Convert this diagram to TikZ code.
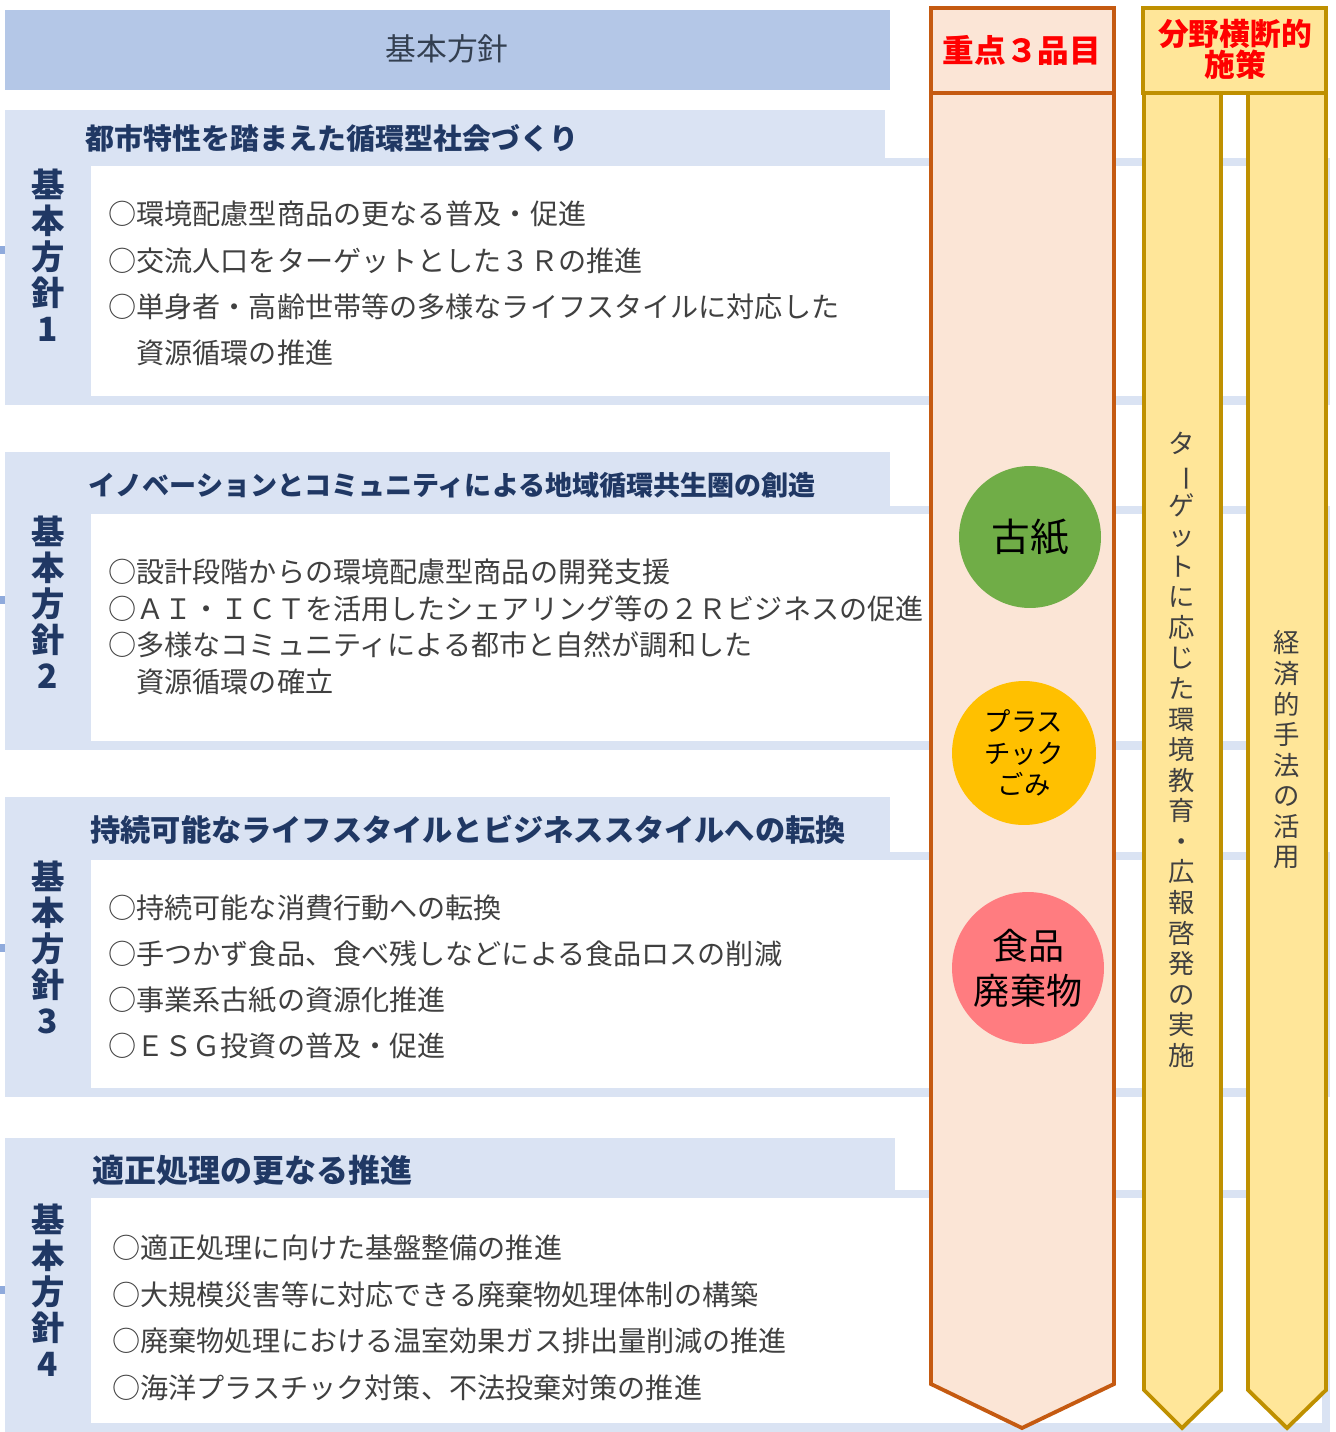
\documentclass[tikz,border=0pt]{standalone}
\usepackage{fontspec}
\setmainfont{Noto Sans CJK JP}
\usepackage{graphicx}
\usepackage{xcolor}
\definecolor{hdrblue}{HTML}{B4C7E7}
\definecolor{panelblue}{HTML}{DAE3F3}
\definecolor{markblue}{HTML}{8FAADC}
\definecolor{navy}{HTML}{203864}
\definecolor{hdrtext}{HTML}{333F50}
\definecolor{bodygray}{HTML}{404040}
\definecolor{jutenfill}{HTML}{FBE5D6}
\definecolor{jutenline}{HTML}{C55A11}
\definecolor{oudanfill}{HTML}{FFE699}
\definecolor{oudanline}{HTML}{BF9000}
\definecolor{kogreen}{HTML}{70AD47}
\definecolor{plaorange}{HTML}{FFC000}
\definecolor{foodpink}{HTML}{FF7C80}
\newcommand{\tatebar}{\rotatebox[origin=c]{-90}{ー}}

\begin{document}
\begin{tikzpicture}[x=0.02cm, y=-0.02cm,
  ttl/.style={anchor=west, inner sep=0pt, text=navy},
  items/.style={anchor=west, inner sep=0pt, align=left, text=bodygray},
  hoshin/.style={inner sep=0pt, align=center, text=navy, font=\bfseries\fontsize{19}{20.5}\selectfont},
  juten/.style={fill=jutenfill, draw=jutenline, line width=2.2pt},
  oudan/.style={fill=oudanfill, draw=oudanline, line width=2.2pt},
  itemcircle/.style={circle, inner sep=0pt, align=center, text=black},
  tate/.style={inner sep=0pt, align=center, text=bodygray, font=\fontsize{15}{17.4}\selectfont},
  redhdr/.style={inner sep=0pt, align=center, text=red, font=\bfseries\fontsize{17.5}{17.5}\selectfont},
  edgemark/.style={fill=markblue}]
\useasboundingbox (0,0) rectangle (1335,1432);

% header
\fill[hdrblue] (5,10) rectangle (890,90);
\node[text=hdrtext, font=\fontsize{17.5}{20}\selectfont] (kihon) at (447,49) {基本方針};

% panels: top / tab right / white top / bottom
\foreach \t/\r/\m/\b in {110/885/166/405, 452/890/514/750, 797/890/860/1097, 1138/895/1198/1432} {
  \fill[panelblue] (5,\t) rectangle (\r,\m);
  \fill[panelblue] (5,\t) rectangle (90,\b);
  \fill[panelblue] (90,\m-8) rectangle (1330,\b);
  \fill[white] (91,\m) rectangle (1322,\b-9);
}
\foreach \y in {250,600,948,1290}
  \fill[edgemark] (0,\y-4) rectangle (5,\y+4);

% policy 1
\node[hoshin] (h1) at (48,255) {基\\本\\方\\針\\1};
\node[ttl, font=\bfseries\fontsize{16.5}{18}\selectfont] (t1) at (85,138) {都市特性を踏まえた循環型社会づくり};
\node[items, font=\fontsize{16}{26.3}\selectfont] (l1) at (108,283.5)
  {○環境配慮型商品の更なる普及・促進\\○交流人口をターゲットとした３Ｒの推進\\○単身者・高齢世帯等の多様なライフスタイルに対応した\\　資源循環の推進};

% policy 2
\node[hoshin] (h2) at (48,602) {基\\本\\方\\針\\2};
\node[ttl, font=\bfseries\fontsize{15.4}{17}\selectfont] (t2) at (88,485) {イノベーションとコミュニティによる地域循環共生圏の創造};
\node[items, font=\fontsize{16}{20.8}\selectfont] (l2) at (108,627)
  {○設計段階からの環境配慮型商品の開発支援\\○ＡＩ・ＩＣＴを活用したシェアリング等の２Ｒビジネスの促進\\○多様なコミュニティによる都市と自然が調和した\\　資源循環の確立};

% policy 3
\node[hoshin] (h3) at (48,947) {基\\本\\方\\針\\3};
\node[ttl, font=\bfseries\fontsize{17.2}{20}\selectfont] (t3) at (90,830) {持続可能なライフスタイルとビジネススタイルへの転換};
\node[items, font=\fontsize{16}{26.1}\selectfont] (l3) at (108,977)
  {○持続可能な消費行動への転換\\○手つかず食品、食べ残しなどによる食品ロスの削減\\○事業系古紙の資源化推進\\○ＥＳＧ投資の普及・促進};

% policy 4
\node[hoshin] (h4) at (48,1290) {基\\本\\方\\針\\4};
\node[ttl, font=\bfseries\fontsize{18.2}{20}\selectfont] (t4) at (92,1170) {適正処理の更なる推進};
\node[items, font=\fontsize{16}{26.5}\selectfont] (l4) at (112,1318)
  {○適正処理に向けた基盤整備の推進\\○大規模災害等に対応できる廃棄物処理体制の構築\\○廃棄物処理における温室効果ガス排出量削減の推進\\○海洋プラスチック対策、不法投棄対策の推進};

% three key items
\draw[juten] (931,8) rectangle (1114,93);
\node[redhdr, font=\bfseries\fontsize{18}{20}\selectfont] (juten) at (1022,50) {重点３品目};
\draw[juten] (931,93) -- (1114,93) -- (1114,1384) -- (1022,1428) -- (931,1384) -- cycle;
\node[itemcircle, fill=kogreen, minimum size=2.84cm, font=\fontsize{22}{24}\selectfont] (koshi) at (1030,537) {古紙};
\node[itemcircle, fill=plaorange, minimum size=2.88cm, font=\fontsize{15}{18}\selectfont] (pla) at (1024,753) {プラス\\チック\\ごみ};
\node[itemcircle, fill=foodpink, minimum size=3.04cm, font=\fontsize{20.5}{25.5}\selectfont] (food) at (1028,968) {食品\\廃棄物};

% cross-cutting measures
\draw[oudan] (1143,8) rectangle (1326,93);
\node[redhdr] (oudan) at (1235,49) {分野横断的\\施策};
\draw[oudan] (1144,93) -- (1221,93) -- (1221,1390) -- (1182,1428) -- (1144,1390) -- cycle;
\draw[oudan] (1248,93) -- (1326,93) -- (1326,1390) -- (1287,1428) -- (1248,1390) -- cycle;
\node[tate] (kyoiku) at (1182,750)
  {タ\\\tatebar\\ゲ\\ッ\\ト\\に\\応\\じ\\た\\環\\境\\教\\育\\・\\広\\報\\啓\\発\\の\\実\\施};
\node[tate] (keizai) at (1287,750) {経\\済\\的\\手\\法\\の\\活\\用};
\end{tikzpicture}
\end{document}
